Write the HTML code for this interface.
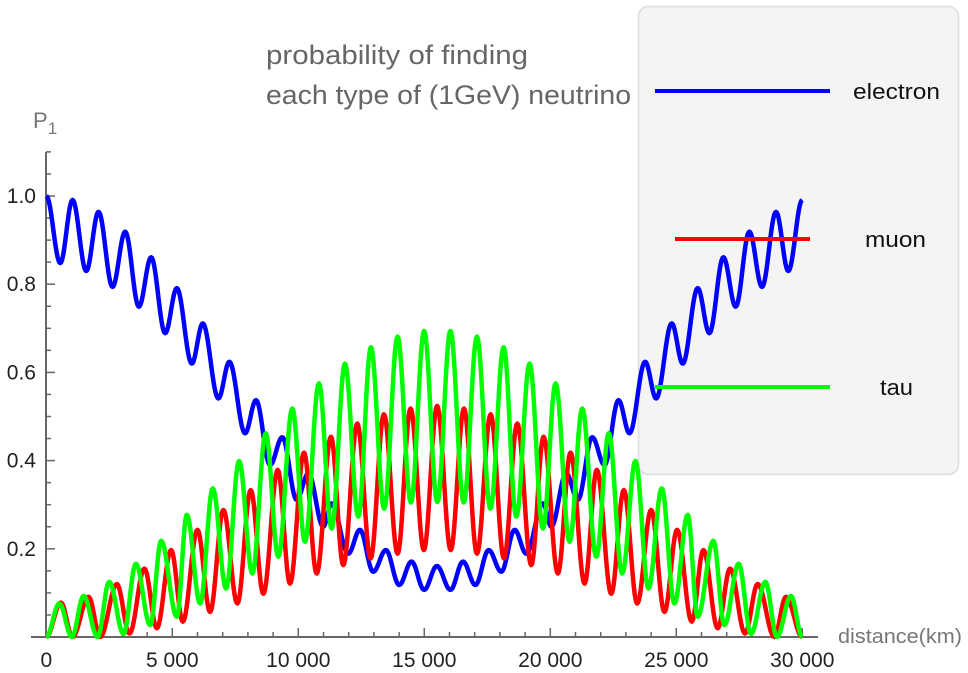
<!DOCTYPE html>
<html><head><meta charset="utf-8"><style>
html,body{margin:0;padding:0;background:#fff;}
svg{display:block;font-family:"Liberation Sans",sans-serif;}
</style></head><body>
<svg id="chart" width="968" height="673" viewBox="0 0 968 673" xmlns="http://www.w3.org/2000/svg">
<rect x="638.5" y="6.5" width="320" height="468" rx="10" fill="#f4f4f4" stroke="#dddddd" stroke-width="1.5"/>
<text x="266" y="64" font-size="27" fill="#666" textLength="262" lengthAdjust="spacingAndGlyphs">probability of finding</text>
<text x="266" y="104" font-size="27" fill="#666" textLength="365" lengthAdjust="spacingAndGlyphs">each type of (1GeV) neutrino</text>
<text x="33" y="128" font-size="22" fill="#777">P<tspan font-size="17" dy="6">1</tspan></text>
<text x="838" y="643" font-size="20" fill="#777" textLength="124" lengthAdjust="spacingAndGlyphs">distance(km)</text>
<g id="axes"></g>
<g id="series"></g>
<g id="legend"></g>
</svg>
<script>
const xTicks=[0,5000,10000,15000,20000,25000,30000];
const xTickLabels=["0","5 000","10 000","15 000","20 000","25 000","30 000"];
const yTicks=[0.2,0.4,0.6,0.8,1.0];
const yTickLabels=["0.2","0.4","0.6","0.8","1.0"];
const seriesNames=["electron","muon","tau"];
const electronX=[0,555,1043,1585,2073,2628,3131,3674,4161,4717,5180,5774,6210,6829,7265,7887,8323,8878,9366,9935,10400,10990,11322,11983,12445,12973,13476,14003,14494,14993,15500,16037,16536,17027,17554,18057,18585,19047,19708,20040,20630,21095,21664,22152,22707,23143,23765,24201,24820,25256,25850,26313,26869,27356,27899,28402,28957,29445,30000];
const electronY=[1.0,0.848,0.991,0.830,0.964,0.794,0.919,0.749,0.861,0.689,0.791,0.620,0.711,0.541,0.624,0.462,0.537,0.390,0.453,0.311,0.371,0.250,0.303,0.189,0.243,0.148,0.197,0.118,0.171,0.107,0.161,0.107,0.171,0.118,0.197,0.148,0.243,0.189,0.303,0.250,0.371,0.311,0.453,0.390,0.537,0.462,0.624,0.541,0.711,0.620,0.791,0.689,0.861,0.749,0.919,0.794,0.964,0.830,0.991];
const muonX=[0,580,1040,1678,2140,2800,3302,3896,4387,4954,5418,5997,6500,7028,7582,8113,8612,9184,9670,10226,10730,11296,11785,12340,12869,13397,13940,14455,14982,15509,16048,16575,17090,17633,18161,18690,19245,19734,20300,20804,21360,21846,22418,22917,23448,24002,24530,25033,25612,26076,26643,27134,27728,28230,28890,29352,30000];
const muonY=[0,0.078,0,0.091,0,0.120,0.008,0.155,0.020,0.197,0.035,0.243,0.057,0.288,0.076,0.333,0.098,0.379,0.121,0.418,0.144,0.454,0.163,0.484,0.178,0.505,0.189,0.518,0.197,0.524,0.197,0.518,0.189,0.505,0.178,0.484,0.163,0.454,0.144,0.418,0.121,0.379,0.098,0.333,0.076,0.288,0.057,0.243,0.035,0.197,0.020,0.155,0.008,0.120,0,0.091,0];
const tauX=[0,515,1017,1480,2035,2497,3065,3555,4122,4558,5180,5577,6104,6607,7134,7650,8177,8708,9207,9762,10265,10820,11322,11851,12380,12881,13408,13940,14467,14994,15515,16036,16563,17090,17622,18149,18650,19179,19708,20210,20765,21268,21823,22322,22853,23380,23896,24423,24926,25453,25850,26472,26908,27475,27965,28533,28995,29550,30000];
const tauY=[0,0.076,0,0.093,0,0.125,0.007,0.166,0.027,0.218,0.046,0.277,0.076,0.337,0.110,0.399,0.144,0.462,0.182,0.518,0.216,0.575,0.246,0.620,0.273,0.657,0.291,0.681,0.305,0.694,0.306,0.694,0.305,0.681,0.291,0.657,0.273,0.620,0.246,0.575,0.216,0.518,0.182,0.462,0.144,0.399,0.110,0.337,0.076,0.277,0.046,0.218,0.027,0.166,0.007,0.125,0,0.093,0];

const NS="http://www.w3.org/2000/svg";
const X0=46.3, XS=126/5000, Y0=637, YS=441;
function sx(v){return X0+v*XS;}
function sy(v){return Y0-v*YS;}
function mk(tag,attrs,parent){const e=document.createElementNS(NS,tag);for(const k in attrs)e.setAttribute(k,attrs[k]);parent.appendChild(e);return e;}
const axes=document.getElementById('axes');
let l=mk('line',{x1:46,y1:152,x2:46,y2:638,stroke:'#666','stroke-width':2},axes);


l=mk('line',{x1:31,y1:637,x2:818,y2:637,stroke:'#666','stroke-width':2},axes);


for(let k=1;k<=22;k++){const v=k*0.05;const y=sy(v);const major=(k%4===0);
 const t=mk('line',{x1:46,y1:y,x2:major?55:51,y2:y,stroke:'#666','stroke-width':1.5},axes);
 
 }
for(let k=1;k<=30;k++){const x=sx(k*1000);const major=(k%5===0);
 const t=mk('line',{x1:x,y1:637,x2:x,y2:major?628:632,stroke:'#666','stroke-width':1.5},axes);
 
 }
yTicks.forEach((v,i)=>{const t=mk('text',{x:36,y:sy(v)+7,'text-anchor':'end','font-size':21,fill:'#222'},axes);t.textContent=yTickLabels[i];
 
 });
xTicks.forEach((v,i)=>{const t=mk('text',{x:sx(v),y:667,'text-anchor':'middle','font-size':21,fill:'#222'},axes);t.textContent=xTickLabels[i];
 
 });
function pathFor(xs,ys){let d='M'+sx(xs[0]).toFixed(2)+','+sy(ys[0]).toFixed(2);
 for(let i=0;i<xs.length-1;i++){const n=16;for(let j=1;j<=n;j++){const t=j/n;const f=(1-Math.cos(Math.PI*t))/2;
  const x=xs[i]+(xs[i+1]-xs[i])*t;const y=ys[i]+(ys[i+1]-ys[i])*f;d+='L'+sx(x).toFixed(2)+','+sy(y).toFixed(2);}}
 return d;}
const series=document.getElementById('series');
let p=mk('path',{d:pathFor(electronX,electronY),fill:'none',stroke:'#0000ff','stroke-width':4.5,'stroke-linejoin':'round'},series);


p=mk('path',{d:pathFor(muonX,muonY),fill:'none',stroke:'#ff0000','stroke-width':4.5,'stroke-linejoin':'round'},series);


p=mk('path',{d:pathFor(tauX,tauY),fill:'none',stroke:'#00ff00','stroke-width':4.5,'stroke-linejoin':'round'},series);


const legend=document.getElementById('legend');
const legCfg=[[655,830,91,'#0000ff',853,87],[675,810,239,'#ff0000',865,61],[655,830,387,'#00ff00',880,33]];
legCfg.forEach((c,i)=>{const ln=mk('line',{x1:c[0],x2:c[1],y1:c[2],y2:c[2],stroke:c[3],'stroke-width':4},legend);
 
 
 const t=mk('text',{x:c[4],y:c[2]+8,'font-size':22,fill:'#111',textLength:c[5],lengthAdjust:'spacingAndGlyphs'},legend);t.textContent=seriesNames[i];
 
 });
</script>
</body></html>
